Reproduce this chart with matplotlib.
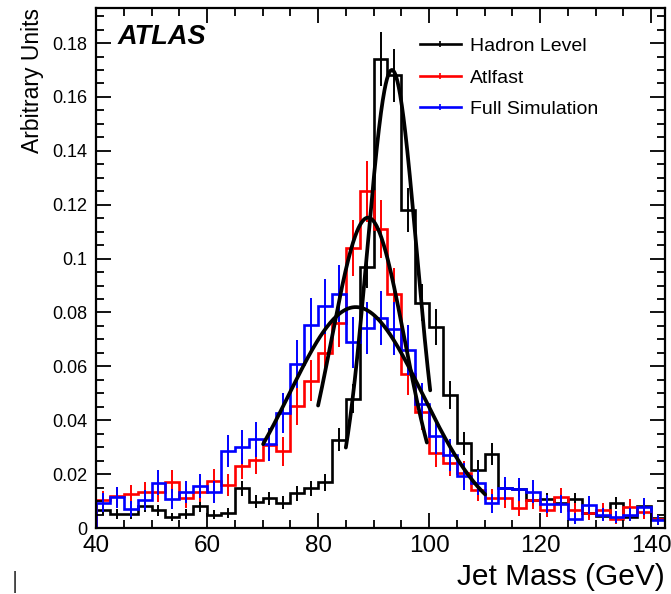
import numpy as np
import matplotlib
matplotlib.use("Agg")
import matplotlib.pyplot as plt
from matplotlib.lines import Line2D
from matplotlib.ticker import MultipleLocator

plt.rcParams['font.family'] = ['Liberation Sans', 'DejaVu Sans']

# binning: 2.5 GeV bins from 40 to 142.5 GeV
bin_edges = np.arange(40.0, 142.51, 2.5)

hadron_vals = [0.0067, 0.0052, 0.0052, 0.0080, 0.0066, 0.0040, 0.0052, 0.0080, 0.0050, 0.0055,
               0.0147, 0.0097, 0.0110, 0.0094, 0.0129, 0.0147, 0.0170, 0.0327, 0.0480, 0.0967,
               0.1740, 0.1680, 0.1180, 0.0836, 0.0746, 0.0494, 0.0314, 0.0216, 0.0275, 0.0147,
               0.0144, 0.0104, 0.0106, 0.0093, 0.0106, 0.0055, 0.0045, 0.0093, 0.0040, 0.0082,
               0.0036]
hadron_err = [0.0020, 0.0017, 0.0017, 0.0021, 0.0020, 0.0015, 0.0017, 0.0021, 0.0017, 0.0018,
              0.0029, 0.0024, 0.0025, 0.0023, 0.0027, 0.0029, 0.0031, 0.0043, 0.0053, 0.0075,
              0.0100, 0.0098, 0.0082, 0.0069, 0.0066, 0.0053, 0.0043, 0.0035, 0.0040, 0.0029,
              0.0029, 0.0024, 0.0025, 0.0023, 0.0025, 0.0018, 0.0016, 0.0023, 0.0015, 0.0022,
              0.0014]

atlfast_vals = [0.0104, 0.0118, 0.0125, 0.0135, 0.0135, 0.0172, 0.0110, 0.0135, 0.0176, 0.0160,
                0.0231, 0.0253, 0.0308, 0.0284, 0.0451, 0.0547, 0.0650, 0.0760, 0.1040, 0.1250,
                0.1110, 0.0870, 0.0570, 0.0430, 0.0280, 0.0243, 0.0204, 0.0140, 0.0110, 0.0110,
                0.0073, 0.0104, 0.0067, 0.0116, 0.0067, 0.0055, 0.0067, 0.0032, 0.0079, 0.0060,
                0.0032]
atlfast_err = [0.0033, 0.0035, 0.0036, 0.0037, 0.0037, 0.0042, 0.0034, 0.0037, 0.0042, 0.0040,
               0.0049, 0.0051, 0.0056, 0.0054, 0.0068, 0.0075, 0.0082, 0.0088, 0.0103, 0.0113,
               0.0107, 0.0094, 0.0076, 0.0066, 0.0054, 0.0050, 0.0046, 0.0038, 0.0034, 0.0034,
               0.0027, 0.0033, 0.0026, 0.0034, 0.0026, 0.0024, 0.0026, 0.0018, 0.0028, 0.0025,
               0.0018]

fullsim_vals = [0.0094, 0.0115, 0.0070, 0.0104, 0.0168, 0.0108, 0.0133, 0.0156, 0.0133, 0.0286,
                0.0302, 0.0330, 0.0310, 0.0426, 0.0610, 0.0755, 0.0823, 0.0870, 0.0690, 0.0742,
                0.0780, 0.0740, 0.0660, 0.0460, 0.0340, 0.0270, 0.0192, 0.0168, 0.0091, 0.0147,
                0.0144, 0.0135, 0.0088, 0.0090, 0.0035, 0.0085, 0.0050, 0.0040, 0.0050, 0.0079,
                0.0030]
fullsim_err = [0.0035, 0.0039, 0.0030, 0.0037, 0.0047, 0.0037, 0.0042, 0.0045, 0.0042, 0.0061,
               0.0063, 0.0065, 0.0063, 0.0074, 0.0089, 0.0099, 0.0103, 0.0106, 0.0095, 0.0098,
               0.0101, 0.0098, 0.0092, 0.0077, 0.0066, 0.0059, 0.0050, 0.0047, 0.0034, 0.0044,
               0.0043, 0.0042, 0.0034, 0.0034, 0.0021, 0.0033, 0.0025, 0.0023, 0.0025, 0.0032,
               0.0020]

# gaussian fits: amplitude, mean, sigma, fit range
hadron_fit = [0.170, 93.3, 4.45, 85.0, 100.2]
atlfast_fit = [0.1152, 89.0, 6.6, 80.0, 99.6]
fullsim_fit = [0.082, 86.8, 12.0, 70.1, 110.1]

labels = ["Hadron Level", "Atlfast", "Full Simulation"]
colors = ["black", "#ff0000", "#0000ff"]

yticks = [0, 0.02, 0.04, 0.06, 0.08, 0.1, 0.12, 0.14, 0.16, 0.18]
ytick_labels = ["0", "0.02", "0.04", "0.06", "0.08", "0.1", "0.12", "0.14", "0.16", "0.18"]
xticks = [40, 60, 80, 100, 120, 140]


def gauss_curve(par):
    amp, mu, sig, lo, hi = par
    x = np.linspace(lo, hi, 200)
    return x, amp * np.exp(-0.5 * ((x - mu) / sig) ** 2)


fig = plt.figure(figsize=(6.71, 5.94), dpi=100)
ax = fig.add_axes([0.1431, 0.1111, 0.848, 0.8754])

centers = 0.5 * (bin_edges[:-1] + bin_edges[1:])
series = [(hadron_vals, hadron_err), (atlfast_vals, atlfast_err), (fullsim_vals, fullsim_err)]
for (vals, err), col in zip(series, colors):
    ax.stairs(vals, bin_edges, color=col, lw=1.9)
    ax.errorbar(centers, vals, yerr=err, fmt='none', ecolor=col, elinewidth=1.4)

for par in [hadron_fit, atlfast_fit, fullsim_fit]:
    fx, fy = gauss_curve(par)
    ax.plot(fx, fy, color='black', lw=2.7, solid_capstyle='round')

ax.set_xlim(40, 142.5)
ax.set_ylim(0, 0.193)

ax.set_xticks(xticks)
ax.xaxis.set_minor_locator(MultipleLocator(5))
ax.set_yticks(yticks)
ax.set_yticklabels(ytick_labels)
ax.yaxis.set_minor_locator(MultipleLocator(0.005))

ax.tick_params(which='both', direction='in', top=True, right=True, width=1.3)
ax.tick_params(which='major', length=11)
ax.tick_params(which='minor', length=6)
ax.tick_params(axis='x', which='major', labelsize=17.5, pad=5)
ax.tick_params(axis='y', which='major', labelsize=13, pad=6)
for sp in ax.spines.values():
    sp.set_linewidth(1.6)

ax.set_xlabel("Jet Mass (GeV)", fontsize=21.5, loc='right', labelpad=4)
ax.set_ylabel("Arbitrary Units", fontsize=16.5, loc='top', labelpad=6)

ax.text(0.037, 0.944, "ATLAS", transform=ax.transAxes, fontsize=19.5,
        fontweight='bold', fontstyle='italic', va='center', ha='left')

handles = [Line2D([], [], color=c, lw=1.9, marker='|', markersize=5, markeredgewidth=1.2)
           for c in colors]
ax.legend(handles, labels, loc='upper left', bbox_to_anchor=(0.569, 0.943),
          frameon=False, fontsize=14, handlelength=2.1, handletextpad=0.5,
          labelspacing=0.71, borderpad=0, borderaxespad=0)

fig.text(0.017, 0.01, "|", fontsize=17, color='#444444')

fig.savefig("out.png", dpi=100)
